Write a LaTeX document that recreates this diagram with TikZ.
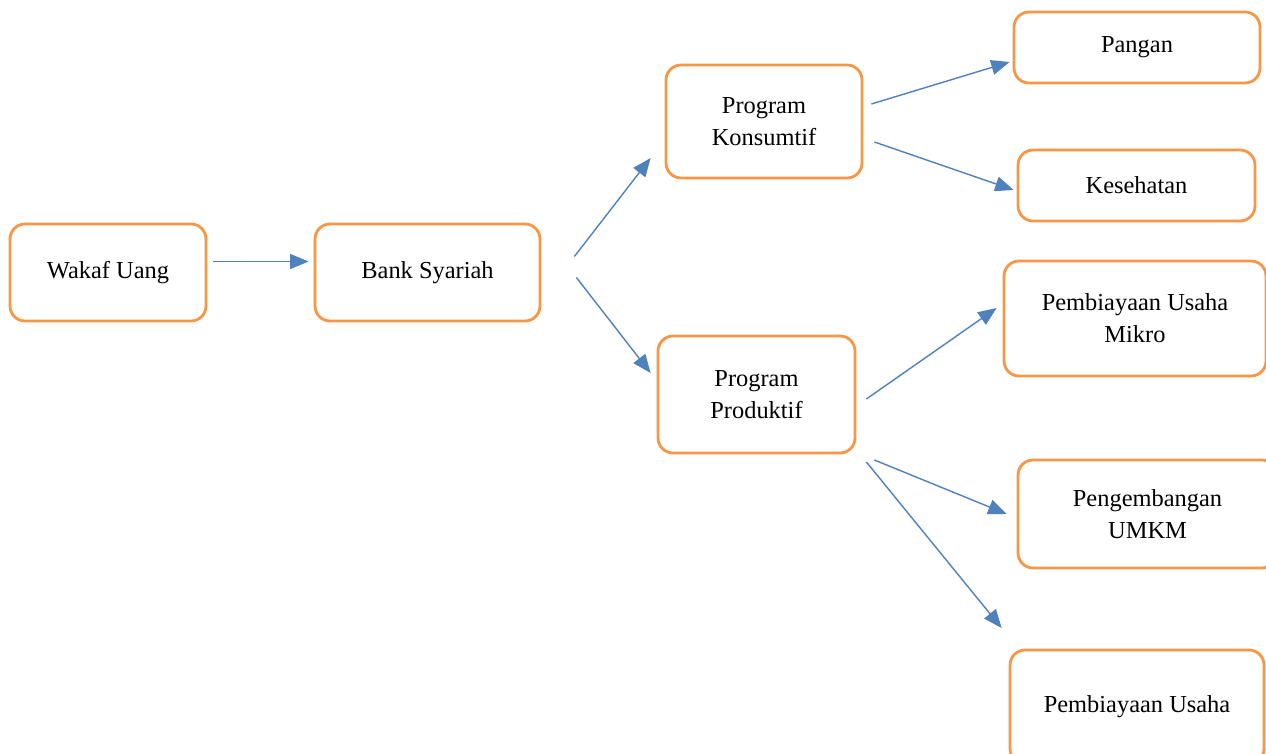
\documentclass[tikz,border=0pt]{standalone}
\usepackage{fontspec}
\setmainfont{Liberation Serif}
\usetikzlibrary{arrows.meta, positioning}
\definecolor{boxorange}{HTML}{F79646}
\definecolor{arrblue}{HTML}{4F81BD}

\begin{document}
\begin{tikzpicture}[x=0.02cm, y=-0.02cm,
    box/.style={draw=boxorange, line width=1.6pt, rounded corners=0.3cm, align=center,
                font=\fontsize{13.9}{18.2}\selectfont, inner sep=0pt},
    arr/.style={-{Triangle[length=10.5pt, width=8.5pt]}, arrblue, line width=0.8pt}]
    \useasboundingbox (0,0) rectangle (1266,753);
    \begin{scope}
    \clip (0,0) rectangle (1266,753);
    % Sumber dana dan bank
    \node[box, minimum width=3.92cm, minimum height=1.94cm] (wakaf) at (108,272.5) {Wakaf Uang};
    \node[box, minimum width=4.5cm, minimum height=1.94cm] (bank) at (427.5,272.5) {Bank Syariah};

    % Program
    \node[box, minimum width=3.92cm, minimum height=2.26cm] (konsumtif) at (764,121.5) {Program\\Konsumtif};
    \node[box, minimum width=3.94cm, minimum height=2.34cm] (produktif) at (756.5,394.5) {Program\\Produktif};

    % Penyaluran
    \node[box, minimum width=4.92cm, minimum height=1.42cm] (pangan) at (1137,47.5) {Pangan};
    \node[box, minimum width=4.74cm, minimum height=1.42cm] (kesehatan) at (1136.5,185.5) {Kesehatan};
    \node[box, minimum width=5.24cm, minimum height=2.3cm] (mikro) at (1135,318.5) {Pembiayaan Usaha\\Mikro};
    \node[box, minimum width=5.18cm, minimum height=2.16cm] (umkm) at (1147.5,514) {Pengembangan\\UMKM};
    \node[box, minimum width=5.08cm, minimum height=2.28cm] (usaha) at (1137,707) {Pembiayaan Usaha};
    \end{scope}

    % Panah
    \draw[arr] ([shift={(6,-11)}]wakaf.east) -- ([shift={(-5,-11)}]bank.west);
    \draw[arr] ([shift={(33,-16)}]bank.east) -- ([shift={(-14,36.5)}]konsumtif.west);
    \draw[arr] ([shift={(35,5)}]bank.east) -- ([shift={(-6,-21.5)}]produktif.west);
    \draw[arr] ([shift={(8,-17.5)}]konsumtif.east) -- ([shift={(-3,14.5)}]pangan.west);
    \draw[arr] ([shift={(11,20.5)}]konsumtif.east) -- ([shift={(-3,4.5)}]kesehatan.west);
    \draw[arr] ([shift={(10,4.5)}]produktif.east) -- ([shift={(-6,-10.5)}]mikro.west);
    \draw[arr] ([shift={(18,65.5)}]produktif.east) -- ([shift={(-10,0)}]umkm.west);
    \draw[arr] ([shift={(10,67.5)}]produktif.east) -- ([shift={(-7,-79)}]usaha.west);
\end{tikzpicture}
\end{document}
